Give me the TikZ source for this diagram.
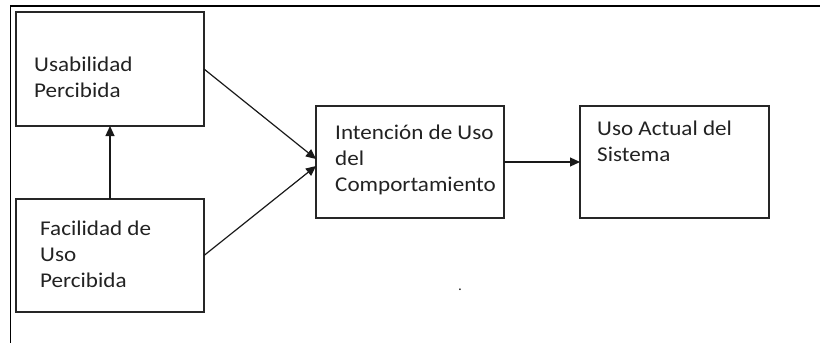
\documentclass[tikz,border=0pt]{standalone}
\usepackage{fontspec}
\setmainfont{Carlito}[FakeStretch=1.1]
\usetikzlibrary{arrows.meta}
\definecolor{ink}{HTML}{222222}
\tikzset{
  box/.style={draw=black!85, line width=1.8pt, minimum width=#1, minimum height=112pt, inner sep=0pt, outer sep=0pt},
  box/.default=188pt,
  txt/.style={anchor=base west, align=left, inner sep=0pt, text=ink, font=\fontsize{21}{26}\selectfont},
  arr/.style={draw=black!90, line width=1.2pt, -{Triangle[length=10pt,width=9pt]}},
  frame/.style={draw=black, line width=1.6pt}
}
\begin{document}
\begin{tikzpicture}[x=1pt,y=-1pt]
\useasboundingbox (0,0) rectangle (820,343);
\coordinate (f1) at (10.5,343);
\coordinate (f2) at (10.5,6);
\coordinate (f3) at (820,6);
\draw[frame] (f1) -- (f2) -- (f3);
\node[box, minimum height=114pt] (a) at (110,69) {};
\node[box, minimum height=113pt] (b) at (110,255.5) {};
\node[box] (c) at (410,162) {};
\node[box=189pt] (d) at (674.5,162) {};
\node[txt] (ta) at (34,97) {Usabilidad\\Percibida};
\node[txt] (tb) at (40,287) {Facilidad de\\Uso\\Percibida};
\node[txt] (tc) at (335,191) {Intención de Uso\\del\\Comportamiento};
\node[txt] (td) at (597,161) {Uso Actual del\\Sistema};
\node[inner sep=0pt, text=ink, font=\fontsize{14}{14}\selectfont] (dot) at (460,290) {.};
\draw[arr] (b.north) -- (a.south);
\draw[arr] (a.east) -- ([yshift=3pt]c.west);
\draw[arr] (b.east) -- ([yshift=-4pt]c.west);
\draw[arr] (c.east) -- (d.west);
\end{tikzpicture}
\end{document}
